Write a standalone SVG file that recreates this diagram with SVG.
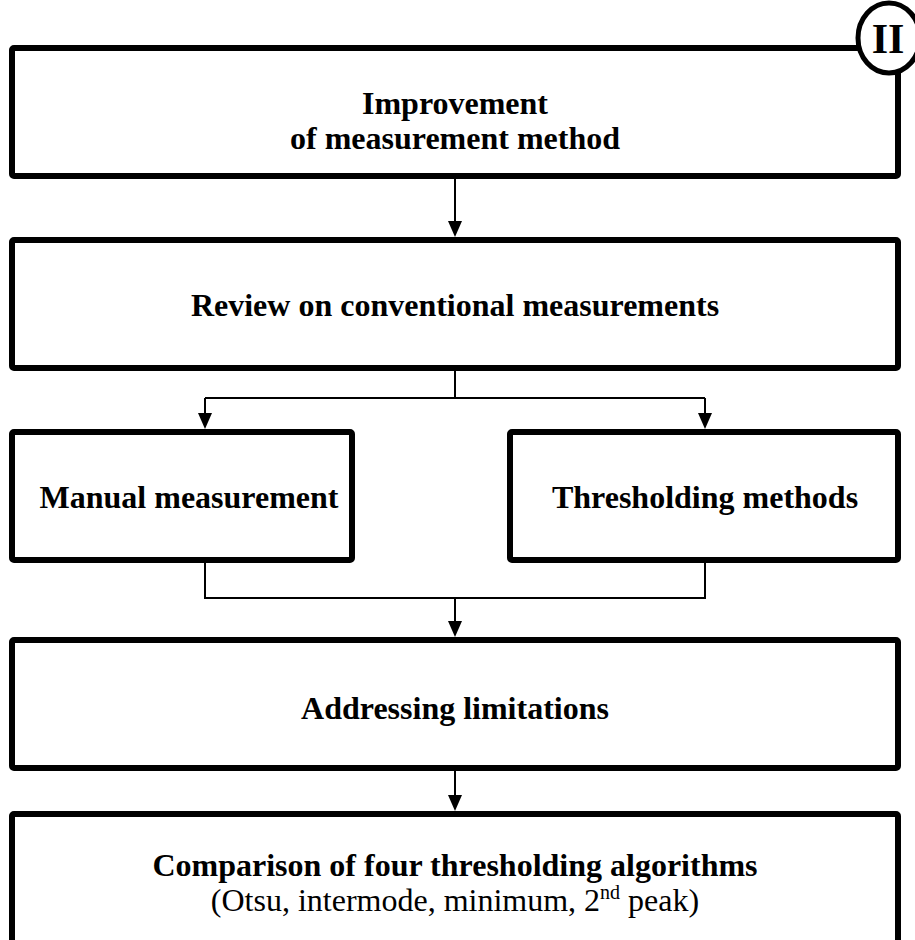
<svg xmlns="http://www.w3.org/2000/svg" width="915" height="940" viewBox="0 0 915 940">
  <style>
    .box { fill: #fff; stroke: #000; stroke-width: 6; stroke-linejoin: round; }
    .wire { fill: none; stroke: #000; stroke-width: 2; }
    .lbl { font-family: "Liberation Serif", "Times New Roman", serif; font-size: 32px; font-weight: bold; text-anchor: middle; fill: #000; }
    .sub { font-family: "Liberation Serif", "Times New Roman", serif; font-size: 32px; text-anchor: middle; fill: #000; }
  </style>
  <rect width="915" height="940" fill="#fff"/>

  <!-- connectors: straight wires with solid triangular heads -->
  <g id="connectors">
    <path class="wire" d="M455,176 V221"/>
    <path d="M448,221 L462,221 L455,237 Z"/>
    <path class="wire" d="M455,368 V398 M205,398 H705 M205,398 V413 M705,398 V413"/>
    <path d="M198,413 L212,413 L205,429 Z"/>
    <path d="M698,413 L712,413 L705,429 Z"/>
    <path class="wire" d="M205,560 V598 H705 V560 M455,598 V621"/>
    <path d="M448,621 L462,621 L455,637 Z"/>
    <path class="wire" d="M455,768 V795"/>
    <path d="M448,795 L462,795 L455,811 Z"/>
  </g>

  <g id="n1">
    <rect class="box" x="12" y="48" width="886" height="128" rx="2"/>
    <text class="lbl" x="455" y="114">Improvement</text>
    <text class="lbl" x="455" y="149">of measurement method</text>
  </g>
  <g id="tag">
    <ellipse cx="889" cy="38" rx="31" ry="35" fill="#fff" stroke="#000" stroke-width="5"/>
    <text class="lbl" x="888" y="53" style="font-size:42px">II</text>
  </g>
  <g id="n2">
    <rect class="box" x="12" y="240" width="886" height="128" rx="2"/>
    <text class="lbl" x="455" y="316">Review on conventional measurements</text>
  </g>
  <g id="n3">
    <rect class="box" x="12" y="432" width="340" height="128" rx="2"/>
    <text class="lbl" x="189" y="508">Manual measurement</text>
  </g>
  <g id="n4">
    <rect class="box" x="510" y="432" width="388" height="128" rx="2"/>
    <text class="lbl" x="705" y="508">Thresholding methods</text>
  </g>
  <g id="n5">
    <rect class="box" x="12" y="640" width="886" height="128" rx="2"/>
    <text class="lbl" x="455" y="719">Addressing limitations</text>
  </g>
  <g id="n6">
    <rect class="box" x="12" y="814" width="886" height="140" rx="2"/>
    <text class="lbl" x="455" y="876">Comparison of four thresholding algorithms</text>
    <text class="sub" x="455" y="911">(Otsu, intermode, minimum, 2<tspan font-size="20" dy="-12">nd</tspan><tspan dy="12"> peak)</tspan></text>
  </g>
</svg>
